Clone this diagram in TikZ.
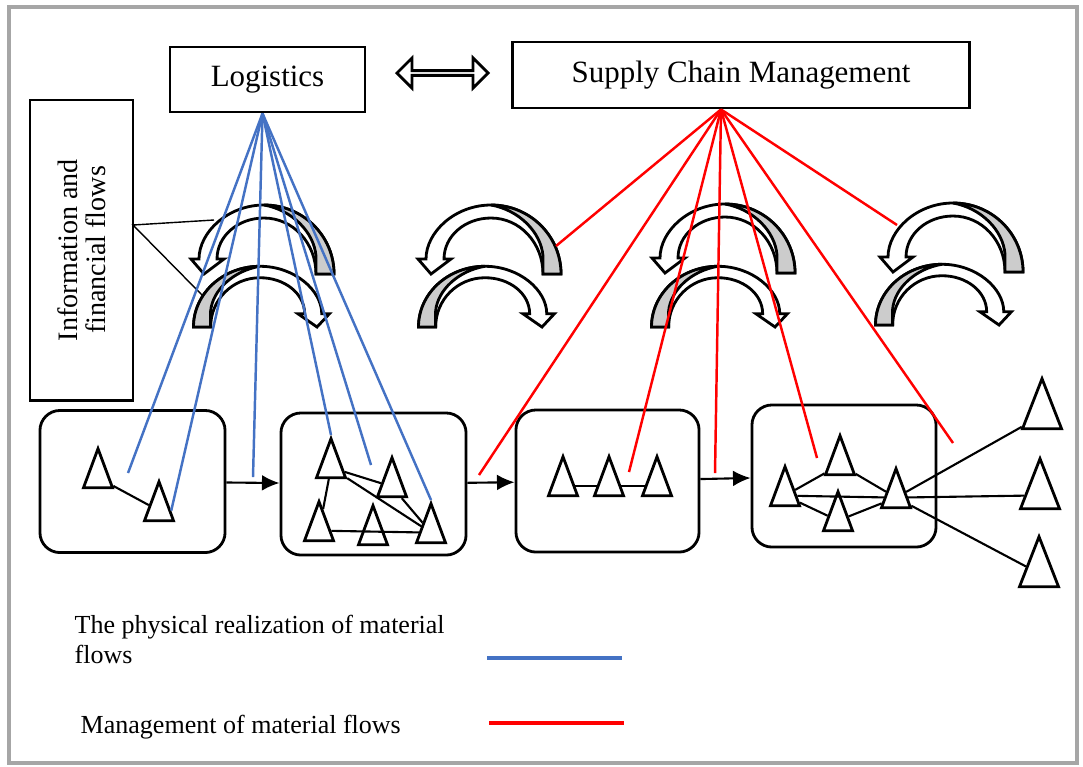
\documentclass[tikz,border=0pt]{standalone}
\usepackage{fontspec}
\setmainfont{Liberation Serif}
\usetikzlibrary{shapes.geometric, shapes.arrows, arrows.meta}

\definecolor{physblue}{RGB}{68,114,196}
\definecolor{mgmtred}{RGB}{255,0,0}

\tikzset{
  headbox/.style={draw, thick, inner sep=0pt, font=\fontsize{8.8}{10}\selectfont},
  stage/.style={draw, thick, rounded corners=0.2cm, minimum width=1.85cm, minimum height=1.42cm},
  site/.style={isosceles triangle, shape border rotate=90, isosceles triangle stretches,
    draw, thick, fill=white, inner sep=0pt, minimum width=0.29cm, minimum height=0.39cm, anchor=apex},
  bigsite/.style={site, minimum width=0.39cm, minimum height=0.50cm},
  link/.style={semithick},
  flow/.style={semithick, -{Latex[length=5pt, width=4.5pt]}},
  phys/.style={physblue, line width=0.7pt},
  mgmt/.style={mgmtred, line width=0.7pt},
  legend/.style={font=\fontsize{7.4}{8.6}\selectfont, inner sep=0pt, align=left},
  flowarc/.pic={
    \filldraw[fill=white, thick] (70,0) .. controls (70,-38) and (39,-69) .. (0,-69)
      .. controls (-36,-69) and (-65,-42) .. (-65,-15) -- (-73,-15) -- (-60,0) -- (-40,-15) -- (-47,-15)
      .. controls (-47,-38) and (-26,-56) .. (0,-56) .. controls (29,-56) and (52,-31) .. (52,0) -- cycle;
    \filldraw[fill=gray!40, thick] (52,0) -- (70,0) .. controls (70,-38) and (39,-69) .. (0,-69)
      .. controls (28,-64) and (50,-42) .. (52,-18) -- cycle;
  }
}

\begin{document}
\begin{tikzpicture}[x=0.01cm, y=-0.01cm]

    \useasboundingbox (0,0) rectangle (1083,766);
    \draw[gray!70, line width=1.2pt] (9,7) rectangle (1077,763);

    % --- Headers ---
    \node[headbox, minimum width=1.95cm, minimum height=0.65cm] (logi) at (267.5,79.5) {Logistics};
    \node[headbox, minimum width=4.56cm, minimum height=0.66cm] (scm) at (741,75) {Supply Chain Management};
    \node[double arrow, draw, thick, fill=white, inner sep=0pt, minimum height=0.91cm, minimum width=0.30cm,
          double arrow head extend=0.075cm] (bridge) at (442.5,73) {};

    % --- Information and financial flows ---
    \node[draw, thick, rotate=90, minimum width=3cm, minimum height=1.03cm, align=center,
          font=\fontsize{8}{8}\selectfont] (info) at (81.5,250) {Information and\\financial flows};

    % --- Flow arcs ---
    \pic at (264,274) {flowarc};
    \pic[xscale=-0.95, yscale=0.88] at (260,327) {flowarc};
    \pic at (491,274) {flowarc};
    \pic[xscale=-0.95, yscale=0.88] at (485,327) {flowarc};
    \pic at (725,273) {flowarc};
    \pic[xscale=-0.95, yscale=0.88] at (718,327) {flowarc};
    \pic at (953,272) {flowarc};
    \pic[xscale=-0.95, yscale=0.88] at (942,325) {flowarc};

    \coordinate (infotip) at (133,225);
    \coordinate (arcin1) at (214,220);
    \coordinate (arcin2) at (202,295);
    \draw[thin] (arcin1) -- (infotip) -- (arcin2);

    % --- Chain stages ---
    \node[stage] (box1) at (132.5,481.5) {};
    \node[stage] (box2) at (373.5,484) {};
    \node[stage, minimum width=1.83cm] (box3) at (607.5,481) {};
    \node[stage, minimum width=1.84cm] (box4) at (844,476) {};
    \draw[flow] (box1) -- (box2);
    \draw[flow] (box2) -- (box3);
    \draw[flow] (box3) -- (box4);

    % stage 1
    \node[site] (t1a) at (98,445) {};
    \node[site] (t1b) at (159,478) {};
    \draw[link] (t1a) -- (t1b);

    % stage 2
    \node[site] (t2a) at (331,435) {};
    \node[site] (t2b) at (392,454) {};
    \node[site] (t2c) at (319,498) {};
    \node[site] (t2d) at (373,502) {};
    \node[site] (t2e) at (431,500) {};
    \draw[link] (t2a) -- (t2b);
    \draw[link] (t2a) -- (t2c);
    \draw[link] (t2a) -- (t2e);
    \draw[link] (t2b) -- (t2e);
    \draw[link] (t2c) -- (t2e);

    % stage 3
    \node[site] (t3a) at (563,453) {};
    \node[site] (t3b) at (609,453) {};
    \node[site] (t3c) at (657,453) {};
    \draw[link] (t3a) -- (t3b) -- (t3c);

    % stage 4 and customers
    \node[site] (t4a) at (785,463) {};
    \node[site] (t4b) at (840,432) {};
    \node[site] (t4c) at (838,488) {};
    \node[site] (t4d) at (896,465) {};
    \node[bigsite] (e1) at (1042,375) {};
    \node[bigsite] (e2) at (1040,455) {};
    \node[bigsite] (e3) at (1039,533) {};
    \foreach \a/\b in {t4a/t4b, t4a/t4c, t4a/t4d, t4b/t4d, t4c/t4d, t4d/e1, t4d/e2, t4d/e3}
        \draw[link] (\a) -- (\b);

    % --- Logistics: physical flows ---
    \coordinate (logihub) at ([xshift=-0.05cm]logi.south);
    \coordinate (b1) at (128,473);
    \coordinate (b3) at (253,477);
    \coordinate (b5) at (371,465);
    \foreach \e in {b1, t1b.east, b3, t2a.apex, b5, t2e.apex}
        \draw[phys] (logihub) -- (\e);

    % --- SCM: management flows ---
    \coordinate (scmhub) at ([xshift=-0.2cm]scm.south);
    \coordinate (r1) at (556,246);
    \coordinate (r2) at (479,475);
    \coordinate (r3) at (629,472);
    \coordinate (r4) at (715,473);
    \coordinate (r5) at (817,458);
    \coordinate (r6) at (953,443);
    \coordinate (r7) at (897,225);
    \foreach \e in {r1, r2, r3, r4, r5, r6, r7}
        \draw[mgmt] (scmhub) -- (\e);

    % --- Legend ---
    \node[legend, anchor=north west] (leg1) at (74,614) {The physical realization of material\\flows};
    \node[legend, anchor=north west] (leg2) at (80,714) {Management of material flows};
    \draw[phys, line width=1.2pt] (487,658) -- (622,658);
    \draw[mgmt, line width=1.2pt] (489,723) -- (624,723);

\end{tikzpicture}
\end{document}
